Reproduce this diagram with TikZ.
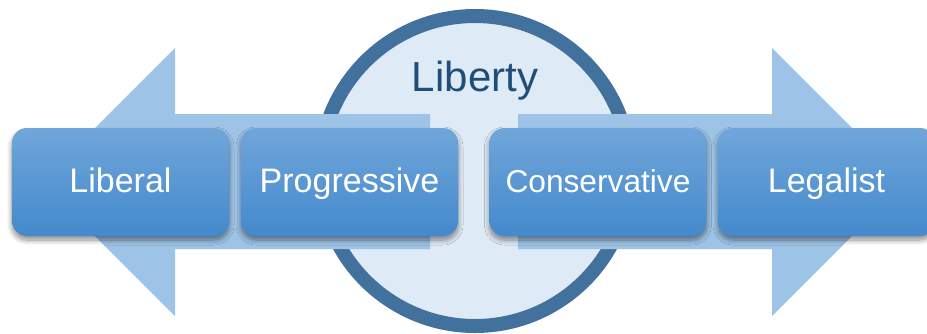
\documentclass[tikz,border=0pt]{standalone}
\usepackage{fontspec}
\setmainfont{Liberation Sans}
\usetikzlibrary{shadows,shadows.blur}
\definecolor{ringblue}{RGB}{65,113,156}
\definecolor{circfill}{RGB}{222,234,246}
\definecolor{arrowblue}{RGB}{157,195,230}
\definecolor{boxtop}{RGB}{112,166,218}
\definecolor{boxbot}{RGB}{68,137,204}
\definecolor{libtext}{RGB}{31,78,121}
\begin{document}
\begin{tikzpicture}[x=1pt,y=-1pt,
  stagebox/.style={rounded corners=15pt, minimum width=217pt, minimum height=108pt,
    inner sep=0pt, top color=boxtop, bottom color=boxbot, text=white,
    font=\fontsize{34}{40}\selectfont, text height=24pt, text depth=4pt,
    blur shadow={shadow xshift=0pt, shadow yshift=-4pt, shadow blur radius=5pt, shadow blur steps=8, shadow opacity=45}},
  arrowshape/.style={fill=arrowblue, draw=none},
  ringstyle/.style={draw=ringblue, line width=14pt, fill=circfill}]
\useasboundingbox (0,0) rectangle (927,333);
% central circle
\node[ringstyle, circle, minimum size=310pt, inner sep=0pt] (ring) at (475,171) {};
\node[text=libtext, font=\fontsize{42}{48}\selectfont] (liberty) at (475,81) {Liberty};
% arrows
\fill[arrowshape] (430,114) -- (175,114) -- (175,48) -- (41,182) -- (175,316) -- (175,249) -- (430,249) -- cycle;
\fill[arrowshape] (518,114) -- (772,114) -- (772,48) -- (906,182) -- (772,316) -- (772,249) -- (518,249) -- cycle;
% boxes
\node[stagebox] (liberal) at (120.5,182) {Liberal};
\node[stagebox] (progressive) at (349.5,182) {Progressive};
\node[stagebox, font=\fontsize{31.7}{38}\selectfont] (conservative) at (598,182) {Conservative};
\node[stagebox] (legalist) at (826.5,182) {Legalist};
\end{tikzpicture}
\end{document}
